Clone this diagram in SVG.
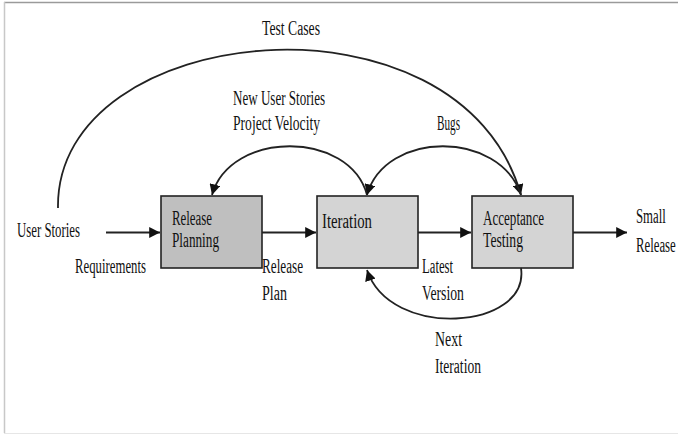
<svg xmlns="http://www.w3.org/2000/svg" width="678" height="435" viewBox="0 0 678 435">
<style>
text{font-family:"Liberation Serif","Times New Roman",serif;font-size:20px;fill:#111}
.box{stroke:#222;stroke-width:1.6}
.c{fill:none;stroke:#222;stroke-width:1.8}
</style>
<defs>
<marker id="ah" viewBox="0 0 10 10" refX="10" refY="5" markerWidth="6" markerHeight="6" orient="auto" markerUnits="strokeWidth">
<path d="M0,0 L10,5 L0,10 z" fill="#111"/>
</marker>
</defs>
<rect x="0" y="0" width="678" height="435" fill="#fff"/>
<line x1="4" y1="2.5" x2="678" y2="2.5" stroke="#9a9a9a" stroke-width="1.5"/>
<line x1="4.5" y1="2" x2="4.5" y2="433" stroke="#c8c8c8" stroke-width="1.5"/>
<line x1="4" y1="433.5" x2="678" y2="433.5" stroke="#e6e6e6" stroke-width="1"/>

<g id="release-planning">
<rect class="box" x="161" y="196" width="101" height="72" fill="#bfbfbf"/>
<text x="172" y="225" textLength="40" lengthAdjust="spacingAndGlyphs">Release</text>
<text x="172" y="247" textLength="47" lengthAdjust="spacingAndGlyphs">Planning</text>
</g>
<g id="iteration">
<rect class="box" x="317" y="196" width="101" height="72" fill="#d4d4d4"/>
<text x="322" y="228" textLength="50" lengthAdjust="spacingAndGlyphs">Iteration</text>
</g>
<g id="acceptance-testing">
<rect class="box" x="472" y="196" width="101" height="72" fill="#d4d4d4"/>
<text x="483" y="225" textLength="61" lengthAdjust="spacingAndGlyphs">Acceptance</text>
<text x="483" y="247" textLength="40" lengthAdjust="spacingAndGlyphs">Testing</text>
</g>
<g id="user-stories">
<text x="17" y="237" textLength="63" lengthAdjust="spacingAndGlyphs">User Stories</text>
</g>
<g id="small-release">
<text transform="translate(636,223) scale(0.64,1)">Small</text>
<text transform="translate(636,252) scale(0.64,1)">Release</text>
</g>

<g id="connectors">
<line class="c" x1="106" y1="232.5" x2="160" y2="232.5" marker-end="url(#ah)"/>
<line class="c" x1="262" y1="232.5" x2="316" y2="232.5" marker-end="url(#ah)"/>
<line class="c" x1="418" y1="232.5" x2="471" y2="232.5" marker-end="url(#ah)"/>
<line class="c" x1="573" y1="232.5" x2="627" y2="232.5" marker-end="url(#ah)"/>
<path class="c" d="M58,208 C55,20 460,-20 521,195" marker-end="url(#ah)"/>
<path class="c" d="M367,195 C350,130 230,130 212,195" marker-end="url(#ah)"/>
<path class="c" d="M521,195 C500,130 385,130 367,195" marker-end="url(#ah)"/>
<path class="c" d="M521,268 C530,330 390,340 367,270" marker-end="url(#ah)"/>
<text x="262" y="35" textLength="58" lengthAdjust="spacingAndGlyphs">Test Cases</text>
<text x="75" y="273" textLength="71" lengthAdjust="spacingAndGlyphs">Requirements</text>
<text x="262" y="273" textLength="41" lengthAdjust="spacingAndGlyphs">Release</text>
<text x="262" y="300" textLength="25" lengthAdjust="spacingAndGlyphs">Plan</text>
<text x="233" y="105" textLength="92" lengthAdjust="spacingAndGlyphs">New User Stories</text>
<text x="233" y="130" textLength="87" lengthAdjust="spacingAndGlyphs">Project Velocity</text>
<text x="437" y="130" textLength="23" lengthAdjust="spacingAndGlyphs">Bugs</text>
<text x="422" y="273" textLength="31" lengthAdjust="spacingAndGlyphs">Latest</text>
<text x="422" y="300" textLength="42" lengthAdjust="spacingAndGlyphs">Version</text>
<text x="435" y="346" textLength="27" lengthAdjust="spacingAndGlyphs">Next</text>
<text x="435" y="373" textLength="46" lengthAdjust="spacingAndGlyphs">Iteration</text>
</g>
</svg>
